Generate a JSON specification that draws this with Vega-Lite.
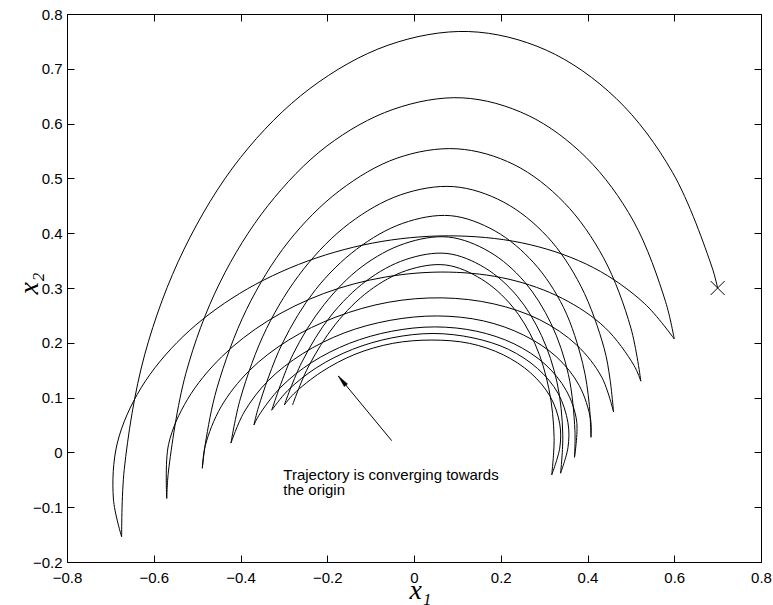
{
  "$schema": "https://vega.github.io/schema/vega-lite/v6.json",
  "width": 694,
  "height": 548,
  "autosize": "none",
  "padding": {"left": 67, "top": 14, "right": 12, "bottom": 43},
  "background": "white",
  "config": {
    "view": {"stroke": null},
    "axis": {
      "grid": false,
      "domainColor": "black",
      "domainWidth": 1,
      "tickColor": "black",
      "tickWidth": 1,
      "tickSize": -7,
      "labelColor": "black",
      "labelFont": "Liberation Sans",
      "labelFontSize": 15,
      "titleColor": "black",
      "titleFont": "Liberation Serif",
      "titleFontStyle": "italic",
      "titleFontWeight": "normal",
      "titleFontSize": 28
    }
  },
  "resolve": {"axis": {"x": "independent", "y": "independent"}},
  "layer": [
    {
      "data": {"values": [
        {"s":"T1","i":0,"x":0.7,"y":0.3},{"s":"T1","i":1,"x":0.687,"y":0.338},{"s":"T1","i":2,"x":0.596,"y":0.511},{"s":"T1","i":3,"x":0.466,"y":0.646},{"s":"T1","i":4,"x":0.305,"y":0.734},{"s":"T1","i":5,"x":0.126,"y":0.768},{"s":"T1","i":6,"x":-0.06,"y":0.743},{"s":"T1","i":7,"x":-0.24,"y":0.664},{"s":"T1","i":8,"x":-0.4,"y":0.538},{"s":"T1","i":9,"x":-0.53,"y":0.371},{"s":"T1","i":10,"x":-0.621,"y":0.178},{"s":"T1","i":11,"x":-0.668,"y":-0.031},{"s":"T1","i":12,"x":-0.674,"y":-0.154},
        {"s":"F1","i":0,"x":-0.674,"y":-0.154},{"s":"F1","i":1,"x":-0.693,"y":-0.085},{"s":"F1","i":2,"x":-0.684,"y":0.017},{"s":"F1","i":3,"x":-0.629,"y":0.118},{"s":"F1","i":4,"x":-0.533,"y":0.211},{"s":"F1","i":5,"x":-0.402,"y":0.29},{"s":"F1","i":6,"x":-0.246,"y":0.349},{"s":"F1","i":7,"x":-0.074,"y":0.385},{"s":"F1","i":8,"x":0.101,"y":0.395},{"s":"F1","i":9,"x":0.268,"y":0.379},{"s":"F1","i":10,"x":0.414,"y":0.337},{"s":"F1","i":11,"x":0.531,"y":0.272},{"s":"F1","i":12,"x":0.6,"y":0.207},
        {"s":"T2","i":0,"x":0.6,"y":0.207},{"s":"T2","i":1,"x":0.58,"y":0.275},{"s":"T2","i":2,"x":0.506,"y":0.422},{"s":"T2","i":3,"x":0.397,"y":0.538},{"s":"T2","i":4,"x":0.263,"y":0.615},{"s":"T2","i":5,"x":0.111,"y":0.647},{"s":"T2","i":6,"x":-0.048,"y":0.626},{"s":"T2","i":7,"x":-0.201,"y":0.559},{"s":"T2","i":8,"x":-0.337,"y":0.45},{"s":"T2","i":9,"x":-0.448,"y":0.309},{"s":"T2","i":10,"x":-0.526,"y":0.144},{"s":"T2","i":11,"x":-0.566,"y":-0.034},{"s":"T2","i":12,"x":-0.57,"y":-0.084},
        {"s":"F2","i":0,"x":-0.57,"y":-0.084},{"s":"F2","i":1,"x":-0.566,"y":0.014},{"s":"F2","i":2,"x":-0.522,"y":0.097},{"s":"F2","i":3,"x":-0.444,"y":0.174},{"s":"F2","i":4,"x":-0.337,"y":0.24},{"s":"F2","i":5,"x":-0.208,"y":0.29},{"s":"F2","i":6,"x":-0.066,"y":0.32},{"s":"F2","i":7,"x":0.08,"y":0.329},{"s":"F2","i":8,"x":0.219,"y":0.316},{"s":"F2","i":9,"x":0.342,"y":0.281},{"s":"F2","i":10,"x":0.44,"y":0.228},{"s":"F2","i":11,"x":0.507,"y":0.159},{"s":"F2","i":12,"x":0.523,"y":0.13},
        {"s":"T3","i":0,"x":0.523,"y":0.13},{"s":"T3","i":1,"x":0.5,"y":0.227},{"s":"T3","i":2,"x":0.437,"y":0.355},{"s":"T3","i":3,"x":0.346,"y":0.456},{"s":"T3","i":4,"x":0.231,"y":0.525},{"s":"T3","i":5,"x":0.099,"y":0.554},{"s":"T3","i":6,"x":-0.039,"y":0.537},{"s":"T3","i":7,"x":-0.171,"y":0.478},{"s":"T3","i":8,"x":-0.29,"y":0.384},{"s":"T3","i":9,"x":-0.386,"y":0.261},{"s":"T3","i":10,"x":-0.454,"y":0.118},{"s":"T3","i":11,"x":-0.481,"y":0.016},{"s":"T3","i":12,"x":-0.488,"y":-0.029},
        {"s":"F3","i":0,"x":-0.488,"y":-0.029},{"s":"F3","i":1,"x":-0.481,"y":0.013},{"s":"F3","i":2,"x":-0.445,"y":0.083},{"s":"F3","i":3,"x":-0.38,"y":0.149},{"s":"F3","i":4,"x":-0.289,"y":0.205},{"s":"F3","i":5,"x":-0.18,"y":0.247},{"s":"F3","i":6,"x":-0.059,"y":0.274},{"s":"F3","i":7,"x":0.065,"y":0.282},{"s":"F3","i":8,"x":0.184,"y":0.271},{"s":"F3","i":9,"x":0.29,"y":0.242},{"s":"F3","i":10,"x":0.375,"y":0.196},{"s":"F3","i":11,"x":0.433,"y":0.137},{"s":"F3","i":12,"x":0.46,"y":0.074},
        {"s":"T4","i":0,"x":0.46,"y":0.074},{"s":"T4","i":1,"x":0.452,"y":0.133},{"s":"T4","i":2,"x":0.438,"y":0.191},{"s":"T4","i":3,"x":0.385,"y":0.303},{"s":"T4","i":4,"x":0.307,"y":0.394},{"s":"T4","i":5,"x":0.206,"y":0.457},{"s":"T4","i":6,"x":0.091,"y":0.485},{"s":"T4","i":7,"x":-0.031,"y":0.47},{"s":"T4","i":8,"x":-0.149,"y":0.418},{"s":"T4","i":9,"x":-0.254,"y":0.335},{"s":"T4","i":10,"x":-0.34,"y":0.226},{"s":"T4","i":11,"x":-0.4,"y":0.099},{"s":"T4","i":12,"x":-0.422,"y":0.017},
        {"s":"F4","i":0,"x":-0.422,"y":0.017},{"s":"F4","i":1,"x":-0.392,"y":0.073},{"s":"F4","i":2,"x":-0.336,"y":0.131},{"s":"F4","i":3,"x":-0.257,"y":0.18},{"s":"F4","i":4,"x":-0.161,"y":0.218},{"s":"F4","i":5,"x":-0.055,"y":0.241},{"s":"F4","i":6,"x":0.054,"y":0.249},{"s":"F4","i":7,"x":0.16,"y":0.24},{"s":"F4","i":8,"x":0.253,"y":0.214},{"s":"F4","i":9,"x":0.329,"y":0.174},{"s":"F4","i":10,"x":0.381,"y":0.122},{"s":"F4","i":11,"x":0.407,"y":0.061},{"s":"F4","i":12,"x":0.408,"y":0.0275},
        {"s":"T5","i":0,"x":0.408,"y":0.0275},{"s":"T5","i":1,"x":0.404,"y":0.088},{"s":"T5","i":2,"x":0.389,"y":0.162},{"s":"T5","i":3,"x":0.345,"y":0.264},{"s":"T5","i":4,"x":0.276,"y":0.346},{"s":"T5","i":5,"x":0.187,"y":0.404},{"s":"T5","i":6,"x":0.084,"y":0.432},{"s":"T5","i":7,"x":-0.026,"y":0.418},{"s":"T5","i":8,"x":-0.132,"y":0.371},{"s":"T5","i":9,"x":-0.227,"y":0.297},{"s":"T5","i":10,"x":-0.304,"y":0.198},{"s":"T5","i":11,"x":-0.358,"y":0.084},{"s":"T5","i":12,"x":-0.369,"y":0.05},
        {"s":"F5","i":0,"x":-0.369,"y":0.05},{"s":"F5","i":1,"x":-0.358,"y":0.067},{"s":"F5","i":2,"x":-0.307,"y":0.119},{"s":"F5","i":3,"x":-0.236,"y":0.164},{"s":"F5","i":4,"x":-0.149,"y":0.199},{"s":"F5","i":5,"x":-0.052,"y":0.221},{"s":"F5","i":6,"x":0.048,"y":0.229},{"s":"F5","i":7,"x":0.145,"y":0.221},{"s":"F5","i":8,"x":0.231,"y":0.198},{"s":"F5","i":9,"x":0.302,"y":0.161},{"s":"F5","i":10,"x":0.351,"y":0.113},{"s":"F5","i":11,"x":0.375,"y":0.057},{"s":"F5","i":12,"x":0.37,"y":-0.009},
        {"s":"T6","i":0,"x":0.37,"y":-0.009},{"s":"T6","i":1,"x":0.371,"y":0.04},{"s":"T6","i":2,"x":0.356,"y":0.142},{"s":"T6","i":3,"x":0.316,"y":0.235},{"s":"T6","i":4,"x":0.254,"y":0.312},{"s":"T6","i":5,"x":0.174,"y":0.366},{"s":"T6","i":6,"x":0.079,"y":0.393},{"s":"T6","i":7,"x":-0.022,"y":0.381},{"s":"T6","i":8,"x":-0.12,"y":0.339},{"s":"T6","i":9,"x":-0.207,"y":0.27},{"s":"T6","i":10,"x":-0.279,"y":0.179},{"s":"T6","i":11,"x":-0.328,"y":0.077},
        {"s":"F6","i":0,"x":-0.328,"y":0.077},{"s":"F6","i":1,"x":-0.291,"y":0.113},{"s":"F6","i":2,"x":-0.224,"y":0.155},{"s":"F6","i":3,"x":-0.142,"y":0.188},{"s":"F6","i":4,"x":-0.051,"y":0.209},{"s":"F6","i":5,"x":0.044,"y":0.217},{"s":"F6","i":6,"x":0.136,"y":0.209},{"s":"F6","i":7,"x":0.218,"y":0.188},{"s":"F6","i":8,"x":0.285,"y":0.153},{"s":"F6","i":9,"x":0.332,"y":0.108},{"s":"F6","i":10,"x":0.355,"y":0.054},{"s":"F6","i":11,"x":0.355,"y":0.009},{"s":"F6","i":12,"x":0.338,"y":-0.038},
        {"s":"T7","i":0,"x":0.338,"y":-0.038},{"s":"T7","i":1,"x":0.343,"y":0.033},{"s":"T7","i":2,"x":0.33,"y":0.127},{"s":"T7","i":3,"x":0.294,"y":0.213},{"s":"T7","i":4,"x":0.238,"y":0.285},{"s":"T7","i":5,"x":0.163,"y":0.337},{"s":"T7","i":6,"x":0.076,"y":0.363},{"s":"T7","i":7,"x":-0.019,"y":0.352},{"s":"T7","i":8,"x":-0.11,"y":0.313},{"s":"T7","i":9,"x":-0.192,"y":0.249},{"s":"T7","i":10,"x":-0.259,"y":0.164},{"s":"T7","i":11,"x":-0.299,"y":0.0865},
        {"s":"F7","i":0,"x":-0.299,"y":0.0865},{"s":"F7","i":1,"x":-0.277,"y":0.107},{"s":"F7","i":2,"x":-0.213,"y":0.147},{"s":"F7","i":3,"x":-0.136,"y":0.179},{"s":"F7","i":4,"x":-0.049,"y":0.199},{"s":"F7","i":5,"x":0.041,"y":0.205},{"s":"F7","i":6,"x":0.128,"y":0.199},{"s":"F7","i":7,"x":0.206,"y":0.178},{"s":"F7","i":8,"x":0.269,"y":0.145},{"s":"F7","i":9,"x":0.314,"y":0.102},{"s":"F7","i":10,"x":0.336,"y":0.052},{"s":"F7","i":11,"x":0.336,"y":0.008},{"s":"F7","i":12,"x":0.3175,"y":-0.041},
        {"s":"T8","i":0,"x":0.3175,"y":-0.041},{"s":"T8","i":1,"x":0.323,"y":0.027},{"s":"T8","i":2,"x":0.311,"y":0.116},{"s":"T8","i":3,"x":0.279,"y":0.198},{"s":"T8","i":4,"x":0.226,"y":0.267},{"s":"T8","i":5,"x":0.156,"y":0.316},{"s":"T8","i":6,"x":0.073,"y":0.342},{"s":"T8","i":7,"x":-0.017,"y":0.332},{"s":"T8","i":8,"x":-0.103,"y":0.295},{"s":"T8","i":9,"x":-0.181,"y":0.234},{"s":"T8","i":10,"x":-0.245,"y":0.154},{"s":"T8","i":11,"x":-0.28,"y":0.0865}
      ]},
      "mark": {"type": "line", "interpolate": "catmull-rom", "color": "black", "strokeWidth": 1},
      "encoding": {
        "x": {"field": "x", "type": "quantitative",
              "scale": {"domain": [-0.8, 0.8], "nice": false, "zero": false},
              "axis": {"orient": "bottom", "values": [-0.8,-0.6,-0.4,-0.2,0,0.2,0.4,0.6,0.8], "format": "~g",
                       "labelPadding": 15, "labelBaseline": "top", "labelFlush": false, "labelOverlap": false,
                       "title": "x₁", "titleX": 353, "titleY": 36, "titleBaseline": "alphabetic", "titleAlign": "center", "titleAngle": 0}},
        "y": {"field": "y", "type": "quantitative",
              "scale": {"domain": [-0.2, 0.8], "nice": false, "zero": false},
              "axis": {"orient": "left", "values": [-0.2,-0.1,0,0.1,0.2,0.3,0.4,0.5,0.6,0.7,0.8], "format": "~g",
                       "labelPadding": 12, "labelFlush": false, "labelOverlap": false,
                       "title": "x₂", "titleX": -30, "titleY": 269, "titleAngle": -90, "titleBaseline": "alphabetic", "titleAlign": "center"}},
        "detail": {"field": "s"},
        "order": {"field": "i", "type": "quantitative"}
      }
    },
    {
      "data": {"values": [{"x": 0.7, "y": 0.3}]},
      "mark": {"type": "point", "shape": "M-1,-1L1,1M-1,1L1,-1", "size": 196, "filled": false, "stroke": "black", "strokeWidth": 1, "opacity": 1},
      "encoding": {
        "x": {"field": "x", "type": "quantitative",
              "scale": {"domain": [-0.8, 0.8], "nice": false, "zero": false},
              "axis": {"orient": "top", "values": [-0.8,-0.6,-0.4,-0.2,0,0.2,0.4,0.6,0.8], "labels": false, "title": null}},
        "y": {"field": "y", "type": "quantitative",
              "scale": {"domain": [-0.2, 0.8], "nice": false, "zero": false},
              "axis": {"orient": "right", "values": [-0.2,-0.1,0,0.1,0.2,0.3,0.4,0.5,0.6,0.7,0.8], "labels": false, "title": null}}
      }
    },
    {
      "data": {"values": [{"x": -0.0514, "y": 0.0214, "x2": -0.1745, "y2": 0.1394}]},
      "mark": {"type": "rule", "color": "black", "strokeWidth": 1},
      "encoding": {
        "x": {"field": "x", "type": "quantitative", "scale": {"domain": [-0.8, 0.8], "nice": false, "zero": false}, "axis": null},
        "y": {"field": "y", "type": "quantitative", "scale": {"domain": [-0.2, 0.8], "nice": false, "zero": false}, "axis": null},
        "x2": {"field": "x2"},
        "y2": {"field": "y2"}
      }
    },
    {
      "data": {"values": [{"x": -0.1658, "y": 0.131}]},
      "mark": {"type": "point", "shape": "M0,-1L0.35,1L-0.35,1Z", "size": 144, "filled": true, "fill": "black", "stroke": "black", "strokeWidth": 0.5, "opacity": 1, "angle": 320.5},
      "encoding": {
        "x": {"field": "x", "type": "quantitative", "scale": {"domain": [-0.8, 0.8], "nice": false, "zero": false}, "axis": null},
        "y": {"field": "y", "type": "quantitative", "scale": {"domain": [-0.2, 0.8], "nice": false, "zero": false}, "axis": null}
      }
    },
    {
      "data": {"values": [
        {"x": -0.3013, "y": -0.0504, "t": "Trajectory is converging towards"},
        {"x": -0.3013, "y": -0.0777, "t": "the origin"}
      ]},
      "mark": {"type": "text", "align": "left", "baseline": "alphabetic", "font": "Liberation Sans", "fontSize": 15, "color": "black"},
      "encoding": {
        "x": {"field": "x", "type": "quantitative", "scale": {"domain": [-0.8, 0.8], "nice": false, "zero": false}, "axis": null},
        "y": {"field": "y", "type": "quantitative", "scale": {"domain": [-0.2, 0.8], "nice": false, "zero": false}, "axis": null},
        "text": {"field": "t"}
      }
    }
  ]
}
